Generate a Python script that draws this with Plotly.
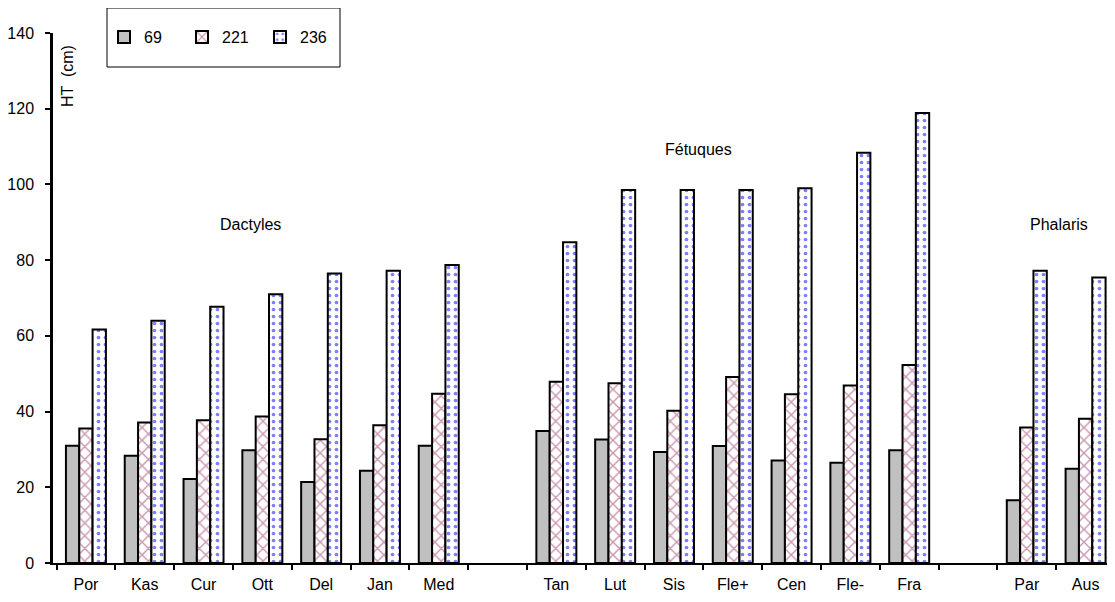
import plotly.graph_objects as go

categories = ["Por", "Kas", "Cur", "Ott", "Del", "Jan", "Med", " ",
              "Tan", "Lut", "Sis", "Fle+", "Cen", "Fle-", "Fra", "  ",
              "Par", "Aus"]
s69 = [31.0, 28.3, 22.2, 29.8, 21.4, 24.4, 31.0, None,
       34.9, 32.6, 29.3, 30.9, 27.1, 26.5, 29.8, None,
       16.6, 24.9]
s221 = [35.5, 37.1, 37.7, 38.7, 32.7, 36.4, 44.7, None,
        47.9, 47.5, 40.2, 49.1, 44.6, 46.9, 52.3, None,
        35.8, 38.1]
s236 = [61.7, 64.0, 67.7, 71.0, 76.5, 77.2, 78.7, None,
        84.7, 98.5, 98.5, 98.5, 99.0, 108.4, 118.9, None,
        77.2, 75.4]
series_names = ["69", "221", "236"]
y_ticks = [0, 20, 40, 60, 80, 100, 120, 140]
group_labels = ["Dactyles", "Fétuques", "Phalaris"]

FONT = "Liberation Sans, Arial, sans-serif"
OFF = 8  # body margin of the html page
W, H = 1115 - OFF, 602 - OFF
# plot area in page pixels
PL, PR, PT, PB = 53, 1115, 33, 563
L, R, T, B = PL - OFF, (OFF + W) - PR, PT - OFF, (OFF + H) - PB
pw, ph = PR - PL, PB - PT


def px2paper_x(px):
    return (px - PL) / pw


def px2paper_y(py):
    return (PB - py) / ph


fig = go.Figure()
fig.add_trace(go.Bar(
    x=categories, y=s69, name=series_names[0],
    marker=dict(color="#C0C0C0", line=dict(color="black", width=2)),
))
fig.add_trace(go.Bar(
    x=categories, y=s221, name=series_names[1],
    marker=dict(color="white", line=dict(color="black", width=2),
                pattern=dict(shape="x", fgcolor="#993366", bgcolor="white",
                             size=9, solidity=0.3)),
))
fig.add_trace(go.Bar(
    x=categories, y=s236, name=series_names[2],
    marker=dict(color="white", line=dict(color="black", width=2),
                pattern=dict(shape=".", fgcolor="#0000FF", bgcolor="white",
                             size=7, solidity=0.22)),
))

# legend box
fig.add_shape(type="rect", xref="paper", yref="paper",
              x0=px2paper_x(107), x1=px2paper_x(340),
              y0=px2paper_y(67), y1=px2paper_y(8),
              line=dict(color="black", width=1), fillcolor="rgba(0,0,0,0)",
              layer="above")

# group labels
label_pos = [(250, 224), (698, 150), (1059, 224)]
for txt, (px, py) in zip(group_labels, label_pos):
    fig.add_annotation(text=txt, xref="paper", yref="paper",
                       x=px2paper_x(px), y=px2paper_y(py),
                       xanchor="center", yanchor="middle",
                       showarrow=False, font=dict(family=FONT, size=16, color="black"))

# y axis title inside plot
fig.add_annotation(text="HT  (cm)", xref="paper", yref="paper",
                   x=px2paper_x(67), y=px2paper_y(76), textangle=-90,
                   xanchor="center", yanchor="middle",
                   showarrow=False, font=dict(family=FONT, size=16, color="black"))

fig.update_layout(
    width=W, height=H,
    margin=dict(l=L, r=R, t=T, b=B, pad=0),
    paper_bgcolor="white", plot_bgcolor="white",
    barmode="group", bargap=0.32, bargroupgap=0,
    font=dict(family=FONT, size=16, color="black"),
    showlegend=True,
    legend=dict(orientation="h", x=px2paper_x(104), y=px2paper_y(37),
                xanchor="left", yanchor="middle",
                bgcolor="rgba(0,0,0,0)", borderwidth=0,
                font=dict(family=FONT, size=16, color="black"),
                entrywidth=33, itemwidth=30),
)
fig.update_xaxes(
    type="category", categoryorder="array", categoryarray=categories,
    range=[-0.56, 17.5], tickson="boundaries", ticks="outside",
    ticklen=5, tickwidth=2, tickcolor="black",
    showline=True, linecolor="black", linewidth=2,
    showgrid=False, zeroline=False, ticklabelstandoff=6,
    tickfont=dict(family=FONT, size=16, color="black"),
)
fig.update_yaxes(
    range=[0, 140], tickvals=y_ticks, ticks="outside",
    ticklen=5, tickwidth=2, tickcolor="black",
    showline=True, linecolor="black", linewidth=2.5,
    showgrid=False, zeroline=False, ticklabelstandoff=8,
    tickfont=dict(family=FONT, size=16, color="black"),
)

fig.write_html("out.html")
